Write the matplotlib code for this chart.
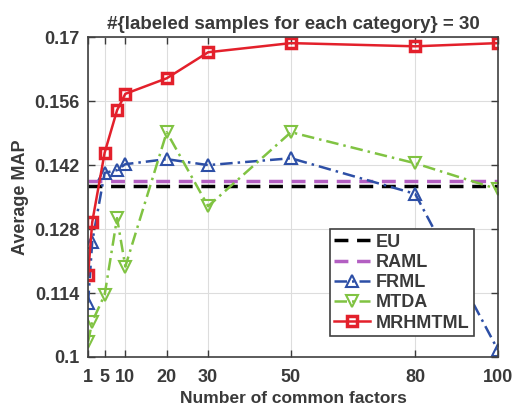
import matplotlib
matplotlib.use("Agg")
import matplotlib.pyplot as plt

factors = [1, 2, 5, 8, 10, 20, 30, 50, 80, 100]
eu_value = 0.1374
raml_value = 0.1386
frml = [0.1118, 0.1252, 0.1403, 0.1409, 0.1422, 0.1433, 0.1420, 0.1435, 0.1357, 0.1015]
mtda = [0.1033, 0.1077, 0.1136, 0.1304, 0.1198, 0.1492, 0.1330, 0.1492, 0.1424, 0.1367]
mrhmtml = [0.1179, 0.1295, 0.1447, 0.1540, 0.1576, 0.1610, 0.1667, 0.1687, 0.1680, 0.1687]

x_ticks = [1, 5, 10, 20, 30, 50, 80, 100]
y_ticks = [0.1, 0.114, 0.128, 0.142, 0.156, 0.17]
y_tick_labels = ["0.1", "0.114", "0.128", "0.142", "0.156", "0.17"]

plt.rcParams["font.family"] = ["Liberation Sans", "DejaVu Sans"]
plt.rcParams["font.weight"] = "bold"
text_color = "#3a3a3a"

fig = plt.figure(figsize=(5.15, 4.13), dpi=100)
ax = fig.add_axes((0.171, 0.1356, 0.796, 0.7744))

ax.plot([1, 100], [eu_value, eu_value], color="black", linestyle=(0, (4, 2.5)),
        linewidth=2.5, label="EU")
ax.plot([1, 100], [raml_value, raml_value], color="#b35fc2", linestyle=(0, (4, 2.5)),
        linewidth=2.5, label="RAML")
ax.plot(factors, frml, color="#2d4fa6", linestyle=(0, (5, 2, 1, 2)), linewidth=1.8,
        marker="^", markersize=8, markerfacecolor="none", markeredgewidth=1.5, label="FRML")
ax.plot(factors, mtda, color="#80c342", linestyle=(0, (5, 2, 1, 2)), linewidth=1.8,
        marker="v", markersize=8, markerfacecolor="none", markeredgewidth=1.5, label="MTDA")
ax.plot(factors, mrhmtml, color="#e3202b", linestyle="-", linewidth=1.8,
        marker="s", markersize=6.5, markerfacecolor="none", markeredgewidth=2.5, label="MRHMTML")

ax.set_xlim(1, 100)
ax.set_ylim(0.1, 0.17)
ax.set_xticks(x_ticks)
ax.set_yticks(y_ticks, y_tick_labels)
ax.grid(True, color="#dddddd", linewidth=0.8)
ax.set_axisbelow(True)
ax.tick_params(direction="in", top=True, right=True, length=5, width=1,
               labelsize=13, colors=text_color)
ax.tick_params(axis="x", pad=9)
ax.tick_params(axis="y", pad=6)
for spine in ax.spines.values():
    spine.set_color("#404040")
    spine.set_linewidth(1.2)

ax.set_title("#{labeled samples for each category} = 30", fontsize=13.5,
             fontweight="bold", color=text_color, pad=6)
ax.set_xlabel("Number of common factors", fontsize=12.5, fontweight="bold",
              color=text_color, labelpad=3)
ax.set_ylabel("Average MAP", fontsize=13, fontweight="bold", color=text_color,
              labelpad=4)

leg = ax.legend(loc="lower right", bbox_to_anchor=(0.963, 0.037), fontsize=13,
                fancybox=False, edgecolor="#404040", framealpha=1,
                handlelength=2.0, handletextpad=0.3, borderpad=0.25, labelspacing=0.18)
leg.get_frame().set_linewidth(1.2)
for text in leg.get_texts():
    text.set_color(text_color)

fig.savefig("out.png", dpi=100)
